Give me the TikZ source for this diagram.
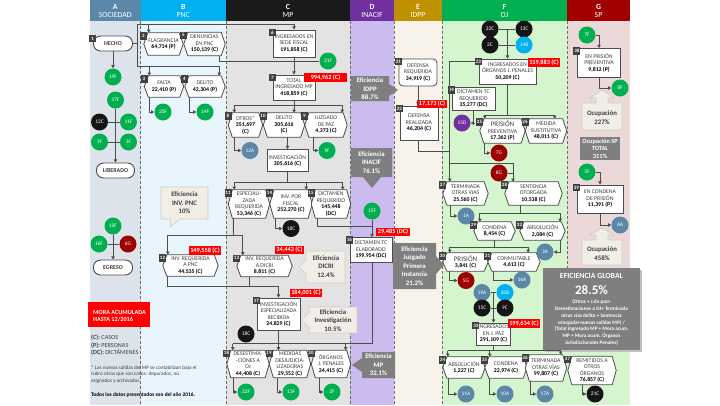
\documentclass[tikz,border=0pt]{standalone}
\usepackage{fontspec}
\setmainfont{Carlito}
\usetikzlibrary{arrows.meta,calc}
\definecolor{hA}{HTML}{5B87AA}
\definecolor{hB}{HTML}{00B0F0}
\definecolor{hC}{HTML}{1A1A1A}
\definecolor{hD}{HTML}{7030A0}
\definecolor{hE}{HTML}{BF9000}
\definecolor{hF}{HTML}{00B050}
\definecolor{hG}{HTML}{A00000}
\definecolor{bA}{HTML}{DCE3EA}
\definecolor{bB}{HTML}{E9F5FC}
\definecolor{bC}{HTML}{E3E3E3}
\definecolor{bD}{HTML}{CBBBEE}
\definecolor{bE}{HTML}{F7F3EA}
\definecolor{bF}{HTML}{D5F5CF}
\definecolor{bG}{HTML}{EBD9D9}
\definecolor{cG}{HTML}{00B050}
\definecolor{cK}{HTML}{151515}
\definecolor{cS}{HTML}{5B87A8}
\definecolor{cR}{HTML}{9C0000}
\definecolor{cB}{HTML}{00B0F0}
\definecolor{cP}{HTML}{7030A0}
\definecolor{txt}{HTML}{404040}
\definecolor{lin}{HTML}{4D4D4D}
\definecolor{effG}{HTML}{7F7F7F}
\definecolor{callF}{HTML}{F1EEE8}
\definecolor{callD}{HTML}{CFCBC4}
\definecolor{redL}{HTML}{FF0000}
\definecolor{dashC}{HTML}{6E6E6E}
\newcommand\nb[1]{{\color{black}\bfseries #1}}
\pgfdeclarelayer{bg}
\pgfdeclarelayer{shp}
\pgfsetlayers{bg,shp,main}
\tikzset{
  ntxt/.style={font=\fontsize{5.8}{6.5}\selectfont, text=txt, align=center, inner sep=0pt},
  hexn/.style={ntxt, rectangle},
  boxn/.style={ntxt, rectangle, draw=lin, fill=white, line width=0.8pt},
  stad/.style={ntxt, rectangle, draw=lin, fill=white, line width=0.9pt, rounded corners=7pt, font=\bfseries\fontsize{6}{7}\selectfont, minimum width=39pt, minimum height=15pt},
  hexd/.style={draw=lin, fill=white, line width=0.8pt, line join=round},
  ln/.style={draw=lin, line width=0.9pt},
  arr/.style={ln, -{Triangle[length=3.2pt,width=3.4pt]}},
  circ/.style={circle, minimum size=17pt, inner sep=0pt, text=white, font=\fontsize{5.4}{6}\selectfont, fill=#1},
  tagn/.style={fill=txt, text=white, font=\bfseries\fontsize{5}{5}\selectfont, inner sep=0pt, minimum width=7pt, minimum height=7.5pt, anchor=north west},
  redl/.style={fill=redL, text=white, font=\bfseries\fontsize{6.3}{7}\selectfont, inner xsep=1.5pt, inner ysep=0pt, minimum height=8.5pt},
  efft/.style={text=white, font=\bfseries\fontsize{6.8}{8.6}\selectfont, align=center, inner sep=0pt},
  calf/.style={fill=callF, draw=callD, line width=0.6pt},
  calt/.style={text=txt, font=\bfseries\fontsize{6.8}{8.6}\selectfont, align=center, inner sep=0pt},
  hdr/.style={text=white, font=\fontsize{7.8}{8}\selectfont, align=center, inner sep=0pt},
}
\begin{document}
\begin{tikzpicture}[x=1pt,y=-1pt]
\useasboundingbox (0,0) rectangle (720,405);
\begin{pgfonlayer}{bg}
\fill[white] (0,0) rectangle (720,405);
\fill[bA] (90,21) rectangle (140.5,405);
\fill[bB] (140.5,21) rectangle (226,405);
\fill[bC] (226,21) rectangle (350,405);
\fill[bD] (350,21) rectangle (394,405);
\fill[bE] (394,21) rectangle (442,405);
\fill[bF] (442,21) rectangle (567,405);
\fill[bF] (567,268) rectangle (630,405);
\fill[bG] (567,21) rectangle (630,268);
\fill[hA] (90,0) rectangle (140.5,21);
\fill[hB] (140.5,0) rectangle (226,21);
\fill[hC] (226,0) rectangle (350,21);
\fill[hD] (350,0) rectangle (394,21);
\fill[hE] (394,0) rectangle (442,21);
\fill[hF] (442,0) rectangle (567,21);
\fill[hG] (567,0) rectangle (630,21);
\foreach \x in {140.5,226,350,394,442}
  \draw[dashC, line width=0.9pt, dash pattern=on 3pt off 2pt] (\x,21) -- (\x,405);
\draw[dashC, line width=0.9pt, dash pattern=on 3pt off 2pt] (567,21) -- (567,268);
\end{pgfonlayer}

% headers
\node[hdr] (hdA) at (115.25,10.5) {\textbf{A}\\SOCIEDAD};
\node[hdr] (hdB) at (183.25,10.5) {\textbf{B}\\PNC};
\node[hdr] (hdC) at (288,10.5) {\textbf{C}\\MP};
\node[hdr] (hdD) at (372,10.5) {\textbf{D}\\INACIF};
\node[hdr] (hdE) at (418,10.5) {\textbf{E}\\IDPP};
\node[hdr] (hdF) at (504.5,10.5) {\textbf{F}\\OJ};
\node[hdr] (hdG) at (598.5,10.5) {\textbf{G}\\SP};

% ---------- callouts / efficiency boxes ----------
\filldraw[calf] (161,187)--(208,187)--(208,219)--(180,219)--(170,227)--(171,219)--(161,219)--cycle;
\node[calt] (ePNC) at (184.5,203) {Eficiencia\\INV. PNC\\10\%};
\filldraw[calf] (306,251)--(345,251)--(345,283)--(306,283)--(306,274)--(299,267)--(306,260)--cycle;
\node[calt] (eDICRI) at (326,266.5) {Eficiencia\\DICRI\\12.4\%};
\filldraw[calf] (309,307)--(357,307)--(357,333)--(309,333)--(309,327)--(301,320)--(309,313)--cycle;
\node[calt] (eInv) at (333,320.5) {Eficiencia\\Investigación\\10.5\%};
\filldraw[calf] (582,103)--(596,103)--(596,98)--(590,98)--(602,90)--(614,98)--(608,98)--(608,103)--(622,103)--(622,130)--(582,130)--cycle;
\node[calt] (oc1) at (602,117.5) {Ocupación\\227\%};
\filldraw[calf] (582,240)--(596,240)--(596,235)--(590,235)--(602,228)--(614,235)--(608,235)--(608,240)--(622,240)--(622,265)--(582,265)--cycle;
\node[calt] (oc2) at (602,253.5) {Ocupación\\458\%};

\fill[effG] (351,76)--(389,76)--(389,84)--(398,90)--(389,96)--(389,101)--(351,101)--cycle;
\node[efft] (eIDPP) at (370,89) {Eficiencia\\IDPP\\88.7\%};
\fill[effG] (351,148)--(392,148)--(392,177)--(381,177)--(372,188)--(363,177)--(351,177)--cycle;
\node[efft] (eINACIF) at (371.5,162.5) {Eficiencia\\INACIF\\76.1\%};
\fill[effG] (393,243)--(436,243)--(436,256)--(444,265)--(436,274)--(436,289)--(393,289)--cycle;
\node[efft] (eJuz) at (414.5,266) {Eficiencia\\Juzgado\\Primera\\Instancia\\21.2\%};
\fill[effG] (362,352)--(395,352)--(395,378)--(362,378)--(362,372)--(352,365)--(362,358)--cycle;
\node[efft] (eMP) at (378.5,365) {Eficiencia\\MP\\32.1\%};
\fill[effG] (580,137) rectangle (620,160);
\node[text=white, font=\bfseries\fontsize{6.3}{7.4}\selectfont, align=center, inner sep=0pt] (ocT) at (600,148.5) {Ocupación SP\\TOTAL\\311\%};
\fill[black!25] (545,270) rectangle (642,352);
\fill[effG] (543,268) rectangle (640,350);
\node[text=white, font=\bfseries\fontsize{7.8}{8}\selectfont, inner sep=0pt] (gT) at (591.5,276) {EFICIENCIA GLOBAL};
\node[text=white, font=\bfseries\fontsize{13}{14}\selectfont, inner sep=0pt] (gP) at (591.5,290) {28.5\%};
\node[text=white, font=\bfseries\fontsize{5.2}{6.95}\selectfont, align=center, inner sep=0pt] (gX) at (591.5,322.5) {(Otros + J.de paz+\\Desestimaciones a OJ+ Terminada\\otras vías delito + Sentencia\\otorgada+nuevas salidas MP) /\\(Total ingresado MP + Mora acum.\\MP + Mora acum. Órganos\\Jurisdiccionales Penales)};

% ---------- legend ----------
\fill[redL] (88,302) rectangle (150,327);
\node[text=white, font=\bfseries\fontsize{6.2}{6.6}\selectfont, align=left, inner sep=0pt, anchor=west] (mora) at (93,316) {MORA ACUMULADA\\HASTA 12/2016};
\node[text=txt, font=\fontsize{6.2}{7.6}\selectfont, align=left, inner sep=0pt, anchor=west] (leg) at (91,345.5) {\textbf{(C):} CASOS\\\textbf{(P):} PERSONAS\\\textbf{(DC):} DICTÁMENES};
\node[text=txt, font=\fontsize{5.2}{6.8}\selectfont, align=left, inner sep=0pt, anchor=west] (foot) at (91,374.5) {* Las nuevas salidas del MP se contabilizan bajo el\\rubro otros que son casos: depurados, no\\asignados y archivados};
\node[text=black, font=\bfseries\fontsize{5.4}{6}\selectfont, inner sep=0pt, anchor=west] (todos) at (91,395.5) {Todos los datos presentados son del año 2016.};

% ---------- column A ----------
\node[stad] (n1) at (113,43.5) {HECHO};
\node[stad, minimum width=38pt] (nLib) at (115.5,170.5) {LIBERADO};
\node[stad] (nEgr) at (113,267.5) {EGRESO};
\node[circ=cG] (c19F) at (113,77) {19F};
\node[circ=cG] (c17F) at (115.5,100) {17F};
\node[circ=cK] (c12C) at (99.5,122) {12C};
\node[circ=cG] (c11F) at (128.5,122) {11F};
\node[circ=cG] (c1F) at (99.5,142) {1F};
\node[circ=cG] (c3F) at (128.5,142) {3F};
\node[circ=cG] (c10F) at (113,226) {10F};
\node[circ=cG] (c16F) at (99,244) {16F};
\node[circ=cR] (c6G) at (128,244) {6G};

% ---------- column B ----------
\node[hexn, minimum width=39pt, minimum height=22pt] (n2) at (163.5,44) {FLAGRANCIA\\\nb{64,714 (P)}};
\node[hexn, minimum width=41pt, minimum height=23pt] (n5) at (204.5,44) {DENUNCIAS\\EN PNC\\\nb{150,139 (C)}};
\node[hexn, minimum width=39pt, minimum height=21pt] (n3) at (164,86.5) {FALTA\\\nb{22,410 (P)}};
\node[hexn, minimum width=40pt, minimum height=21pt] (n4) at (205,86.5) {DELITO\\\nb{42,304 (P)}};
\node[hexn, minimum width=55pt, minimum height=21pt] (n12) at (190.5,265.5) {INV. REQUERIDA\\A PNC\\\nb{44,535 (C)}};
\node[circ=cG] (c20F) at (163,112) {20F};
\node[circ=cG] (c14F) at (205,112) {14F};

% ---------- column C ----------
\node[boxn, minimum width=42pt, minimum height=27pt] (n6) at (294,43.5) {INGRESADOS EN\\SEDE FISCAL\\\nb{191,858 (C)}};
\node[boxn, minimum width=42pt, minimum height=25pt] (n7) at (294,87.5) {TOTAL\\INGRESADO MP\\\nb{418,859 (C)}};
\node[hexn, minimum width=34pt, minimum height=24pt] (n8) at (245.5,125) {OTROS*\\\nb{351,697}\\\nb{(C)}};
\node[hexn, minimum width=41pt, minimum height=24pt] (n10) at (284,125) {DELITO\\\nb{305,616}\\\nb{(C)}};
\node[hexn, minimum width=42pt, minimum height=24pt] (n9) at (326,125) {JUZGADO\\DE PAZ\\\nb{4,373 (C)}};
\node[boxn, minimum width=41pt, minimum height=22pt] (nInv) at (287.5,160.5) {INVESTIGACIÓN\\\nb{305,616 (C)}};
\node[hexn, minimum width=41pt, minimum height=28pt] (n11) at (249,204) {ESPECIALI-\\ZADA\\REQUERIDA\\\nb{53,346 (C)}};
\node[hexn, minimum width=42pt, minimum height=28pt] (n14) at (291,204) {INV. POR\\FISCAL\\\nb{252,270 (C)}};
\node[hexn, minimum width=39pt, minimum height=28pt] (n15) at (331,204) {DICTAMEN\\REQUERIDO\\\nb{145,448}\\\nb{(DC)}};
\node[hexn, minimum width=55pt, minimum height=21pt] (n13) at (264.5,266) {INV. REQUERIDA\\A DICRI\\\nb{8,811 (C)}};
\node[boxn, minimum width=43pt, minimum height=32pt] (n17) at (278.5,314) {INVESTIGACIÓN\\ESPECIALIZADA\\RECIBIDA\\\nb{24,829 (C)}};
\node[hexn, minimum width=42pt, minimum height=27pt] (n18) at (248,364) {DESESTIMA-\\-CIONES A\\OJ\\\nb{44,408 (C)}};
\node[hexn, minimum width=41pt, minimum height=27pt] (n19) at (290,364) {MEDIDAS\\DESJUDICIA-\\LIZADORAS\\\nb{29,552 (C)}};
\node[hexn, minimum width=39pt, minimum height=27pt] (n20) at (331,364) {ÓRGANOS\\J. PENALES\\\nb{24,415 (C)}};
\node[circ=cG] (c21F) at (328,61) {21F};
\node[circ=cS] (c12A) at (250,150.5) {12A};
\node[circ=cG] (c9F) at (327,150.5) {9F};
\node[circ=cK] (c18Ca) at (291,228.5) {18C};
\node[circ=cK] (c18Cb) at (246,334) {18C};
\node[circ=cG] (c22F) at (246,392) {22F};
\node[circ=cG] (c13F) at (291,392) {13F};
\node[circ=cG] (c2F) at (332,392) {2F};

% ---------- column D ----------
\node[boxn, minimum width=42pt, minimum height=25pt] (n16) at (371,250) {DICTAMEN TC\\ELABORADO\\\nb{199,954 (DC)}};
\node[circ=cG] (c15F) at (372,211) {15F};

% ---------- column E ----------
\node[boxn, rounded corners=4pt, minimum width=38pt, minimum height=27pt] (n21) at (418,72.5) {DEFENSA\\REQUERIDA\\\nb{34,919 (C)}};
\node[boxn, minimum width=38pt, minimum height=34pt] (n22) at (419,123) {DEFENSA\\REALIZADA\\\nb{46,204 (C)}};

% ---------- column F ----------
\node[boxn, minimum width=57pt, minimum height=25pt] (n23) at (507.5,71.5) {INGRESADOS EN\\ÓRGANOS J. PENALES\\\nb{50,209 (C)}};
\node[boxn, minimum width=43pt, minimum height=23pt] (n24) at (473.5,99) {DICTAMEN TC\\REQUERIDO\\\nb{35,277 (DC)}};
\node[hexn, minimum width=45pt, minimum height=24pt] (n25) at (502.5,131) {{\fontsize{7}{7}\selectfont PRISIÓN}\\PREVENTIVA\\\nb{17,362 (P)}};
\node[hexn, minimum width=41pt, minimum height=24pt] (n26) at (546,131) {MEDIDA\\SUSTITUTIVA\\\nb{48,011 (C)}};
\node[hexn, minimum width=45pt, minimum height=23pt] (n27) at (465.5,193.5) {TERMINADA\\OTRAS VIAS\\\nb{25,560 (C)}};
\node[hexn, minimum width=57pt, minimum height=23pt] (n28) at (533.5,193.5) {SENTENCIA\\OTORGADA\\\nb{10,538 (C)}};
\node[hexn, minimum width=41pt, minimum height=18pt] (n29) at (494.5,231) {CONDENA\\\nb{8,454 (C)}};
\node[hexn, minimum width=45pt, minimum height=18pt] (n32) at (542.5,231) {ABSOLUCIÓN\\\nb{2,084 (C)}};
\node[hexn, minimum width=45pt, minimum height=18pt] (n30) at (465.5,262) {{\fontsize{7}{7}\selectfont PRISIÓN}\\\nb{3,841 (C)}};
\node[hexn, minimum width=52pt, minimum height=18pt] (n31) at (514,262) {CONMUTABLE\\\nb{4,613 (C)}};
\node[boxn, minimum width=34pt, minimum height=22pt] (n33) at (493.5,334) {INGRESADOS\\EN J. PAZ\\\nb{291,109 (C)}};
\node[hexn, minimum width=42pt, minimum height=21pt] (n34) at (464,367.5) {ABSOLUCIÓN\\\nb{1,227 (C)}};
\node[hexn, minimum width=42pt, minimum height=21pt] (n35) at (506,367.5) {CONDENA\\\nb{22,974 (C)}};
\node[hexn, minimum width=41pt, minimum height=26pt] (n36) at (546,368) {TERMINADA\\OTRAS VÍAS\\\nb{99,807 (C)}};
\node[hexn, minimum width=48pt, minimum height=28pt] (n37) at (592,370.5) {REMITIDOS A\\OTROS\\ÓRGANOS\\\nb{76,857 (C)}};
\node[circ=cK] (c22C) at (490,29) {22C};
\node[circ=cK] (c13C) at (524,29) {13C};
\node[circ=cK] (c2C) at (490,45) {2C};
\node[circ=cB] (c14B) at (524,45) {14B};
\node[circ=cP] (c15D) at (462,123) {15D};
\node[circ=cR] (c7G) at (499,153) {7G};
\node[circ=cR] (c8G) at (499,173) {8G};
\node[circ=cS] (c1A) at (466,216) {1A};
\node[circ=cS] (c3A) at (545,252) {3A};
\node[circ=cR] (c5G) at (466,280.5) {5G};
\node[circ=cS] (c16A) at (522,280) {16A};
\node[circ=cS] (c19A) at (482,292.5) {19A};
\node[circ=cB] (c20B) at (505,292.5) {20B};
\node[circ=cK] (c15C) at (482,308) {15C};
\node[circ=cK] (c9C) at (505,308) {9C};
\node[circ=cS] (c11A) at (466,394) {11A};
\node[circ=cS] (c10A) at (505,394) {10A};
\node[circ=cS] (c17A) at (545,394) {17A};
\node[circ=cK] (c21C) at (595,394) {21C};

% ---------- column G ----------
\node[boxn, minimum width=43pt, minimum height=29pt] (n38) at (599,63) {EN PRISIÓN\\PREVENTIVA\\\nb{9,812 (P)}};
\node[boxn, minimum width=46pt, minimum height=28pt] (n39) at (600,199) {EN CONDENA\\DE PRISIÓN\\\nb{11,391 (P)}};
\node[circ=cG] (c7F) at (587,35) {7F};
\node[circ=cG] (c8F) at (620,88) {8F};
\node[circ=cG] (c5F) at (587,172) {5F};
\node[circ=cS] (c6A) at (620,225) {6A};

% ---------- hexagon outlines ----------
\begin{pgfonlayer}{shp}
\foreach \n in {n2,n3,n4,n5,n8,n9,n10,n11,n12,n13,n14,n15,n18,n19,n20,n25,n26,n27,n28,n29,n30,n31,n32,n34,n35,n36,n37}{
  \draw[hexd] (\n.west) -- ([xshift=4pt]\n.north west) -- ([xshift=-4pt]\n.north east) -- (\n.east) -- ([xshift=-4pt]\n.south east) -- ([xshift=4pt]\n.south west) -- cycle;
}
\end{pgfonlayer}

% ---------- tags ----------
\foreach \n/\t in {n1/1,n2/2,n3/3,n4/4,n5/5,n6/6,n7/7,n8/8,n9/9,n10/10,n11/11,n12/12,n13/13,n14/14,n15/15,n16/16,n17/17,n18/18,n19/19,n20/20,n21/21,n22/22,n23/23,n24/24,n25/25,n26/26,n27/27,n28/28,n29/29,n30/30,n31/31,n32/32,n33/33,n34/34,n35/35,n36/36,n37/37,n38/38,n39/39}{
  \node[tagn] (t\t) at ([xshift=-4pt,yshift=1pt]\n.north west) {\t};
}

% ---------- red labels ----------
\node[redl, minimum width=43pt] (r994) at (325.5,77.5) {994,962 (C)};
\node[redl] (r149) at (205,250.5) {149,558 (C)};
\node[redl] (r344) at (289.5,250) {34,443 (C)};
\node[redl] (r184) at (306,293) {184,001 (C)};
\node[redl] (r294) at (393,232) {29,485 (DC)};
\node[redl] (r171) at (432,104) {17,173 (C)};
\node[redl] (r119) at (544,62.5) {119,883 (C)};
\node[redl] (r199) at (524,323.5) {199,634 (C)};

% ---------- connectors: A ----------
\draw[arr] (n1) -- (c19F);
\draw[ln] (c12C) -- (c11F);
\draw[ln] (c1F) -- (c3F);
\draw[arr] (c17F) -- (nLib);
\draw[ln] (c16F) -- (c6G);
\draw[arr] (c10F) -- (nEgr);
\coordinate (jR) at (137,43.5);
\coordinate (jTop) at (137,24);
\coordinate (jMid) at (137,66);
\coordinate (n2in) at ([xshift=5pt]n2.north west);
\coordinate (n3in) at ([xshift=5pt]n3.north west);
\coordinate (n4in) at ([xshift=-6pt]n4.north east);
\draw[ln] (n1.east) -- (jR) -- (jTop) -- (jTop -| n6.north);
\draw[arr] (jTop -| n6.north) -- (n6.north);
\draw[arr] (jTop -| n2in) -- (n2in);
\draw[ln] (jR) -- (jMid) -- (jMid -| n4in);
\draw[arr] (jMid -| n3in) -- (n3in);
\draw[arr] (jMid -| n4in) -- (n4in);
% B
\draw[arr] ([xshift=5pt]n3.south west) |- (c20F);
\draw[arr] ([xshift=5pt]n4.south west) |- (c14F);
\draw[ln] ([xshift=-6pt]n5.south east) |- (c21F);
% C
\draw[arr] (n6) -- (n7);
\coordinate (d7) at (294,105);
\coordinate (n8in) at ([xshift=6pt]n8.north west);
\coordinate (n9in) at ([xshift=-5pt]n9.north east);
\draw[ln] (d7 -| n8in) -- (d7 -| n9in);
\draw[arr] (n7.south) -- (n7.south |- n10.north);
\draw[arr] (d7 -| n8in) -- (n8in);
\draw[arr] (d7 -| n9in) -- (n9in);
\draw[arr] ([xshift=6pt]n8.south west) |- (c12A);
\draw[arr] ([xshift=9pt]n9.south west) |- (c9F);
\draw[arr] (n10.south -| nInv.north) -- (nInv.north);
\coordinate (dI) at (287.5,182);
\coordinate (n11in) at ([xshift=6pt]n11.north west);
\coordinate (n14in) at ([xshift=-6pt]n14.north east);
\coordinate (n15in) at ([xshift=-8pt]n15.north east);
\draw[ln] (nInv.south) -- (dI);
\draw[ln] (dI -| n11in) -- (dI -| n15in);
\draw[arr] (dI -| n11in) -- (n11in);
\draw[arr] (dI -| n14in) -- (n14in);
\draw[arr] (dI -| n15in) -- (n15in);
\draw[arr] ([xshift=6pt]n14.south west) |- (c18Ca);
\coordinate (j15) at (372,226);
\draw[ln] ([xshift=6pt]n15.south west) |- (j15);
\draw[arr] (c15F) -- (c15F |- n16.north);
\coordinate (j11) at (233.5,235);
\coordinate (n12in) at ([xshift=5pt]n12.north west);
\coordinate (n13in) at ([xshift=6pt]n13.north west);
\draw[ln] ([xshift=5pt]n11.south west) -- (j11);
\draw[arr] (j11) -| (n12in);
\draw[arr] (j11) -| (n13in);
\coordinate (j17) at (278.5,286);
\draw[ln] ([xshift=5pt]n12.south west) |- (j17);
\draw[ln] ([xshift=13pt]n13.south west) -- ([xshift=13pt]n13.south west |- j17);
\draw[arr] (j17) -- (n17.north);
\coordinate (d17) at (278.5,343.5);
\coordinate (n18in) at ([xshift=6pt]n18.north west);
\coordinate (n20in) at ([xshift=-5pt]n20.north east);
\draw[ln] (n17.south) -- (d17);
\draw[ln] (d17 -| n18in) -- (d17 -| n20in);
\draw[arr] (d17 -| n18in) -- (n18in);
\draw[arr] (d17) -- (d17 |- n19.north);
\draw[arr] (d17 -| n20in) -- (n20in);
\draw[arr] ([xshift=7pt]n18.south west) |- (c22F);
\draw[arr] ([xshift=8pt]n19.south west) |- (c13F);
\draw[arr] ([xshift=8pt]n20.south west) |- (c2F);
% D
\draw[ln] (n16.south -| c15F) |- (d17 -| n20in);
% E
\draw[arr] (n21.south) -- (n21.south |- n22.north);
\coordinate (j22) at (450,151);
\draw[ln] (n21.south |- n22.south) |- (j22);
% F
\draw[ln] (c22C) -- (c13C);
\draw[ln] (c2C) -- (c14B);
\coordinate (jOJ) at (507.5,29);
\draw[arr] (jOJ) -- (n23.north);
\coordinate (n27in) at ([xshift=7pt]n27.north west);
\draw[arr] ([yshift=-3pt]n23.north west) -| (n27in);
\draw[arr] (n24.south) |- (c15D);
\coordinate (d23) at (507.5,115);
\coordinate (n25in) at ([xshift=5pt]n25.north west);
\coordinate (n26in) at ([xshift=-12pt]n26.north east);
\draw[ln] (n23.south) -- (d23);
\draw[ln] (d23 -| n25in) -- (d23 -| n26in);
\draw[arr] (d23 -| n25in) -- (n25in);
\draw[arr] (d23 -| n26in) -- (n26in);
\draw[arr] ([xshift=5pt]n25.south west) |- (c7G);
\coordinate (j28) at (513,163);
\coordinate (n28in) at (j28 |- n28.north);
\draw[ln] (n27in |- j28) -- (j28);
\draw[arr] (j28) -- (n28in);
\draw[ln] (c8G) -- (c8G -| j28);
\draw[arr] ([xshift=8pt]n27.south west) |- (c1A);
\coordinate (d28) at (520,213);
\coordinate (n29in) at ([xshift=6pt]n29.north west);
\coordinate (n32in) at ([xshift=-5pt]n32.north east);
\draw[ln] (d28 |- n28.south) -- (d28);
\draw[ln] (d28 -| n29in) -- (d28 -| n32in);
\draw[arr] (d28 -| n29in) -- (n29in);
\draw[arr] (d28 -| n32in) -- (n32in);
\draw[arr] ([xshift=-5pt]n32.south east) |- (c3A);
\coordinate (d29) at (494.5,247);
\coordinate (n30in) at ([xshift=7pt]n30.north west);
\coordinate (n31in) at ([xshift=-12pt]n31.north east);
\draw[ln] (n29.south) -- (d29);
\draw[ln] (d29 -| n30in) -- (d29 -| n31in);
\draw[arr] (d29 -| n30in) -- (n30in);
\draw[arr] (d29 -| n31in) -- (n31in);
\draw[arr] ([xshift=7pt]n30.south west) |- (c5G);
\draw[arr] ([xshift=6pt]n31.south west) |- (c16A);
\draw[ln] (c19A) -- (c20B);
\draw[ln] (c15C) -- (c9C);
\coordinate (jJP) at (493.5,292.5);
\draw[arr] (jJP) -- (n33.north);
\coordinate (d33) at (493.5,350.5);
\coordinate (n34in) at ([xshift=5pt]n34.north west);
\coordinate (n35in) at ([xshift=5pt]n35.north west);
\coordinate (n36in) at ([xshift=-6pt]n36.north east);
\draw[ln] (n33.south) -- (d33);
\draw[ln] (d33 -| n34in) -- (d33 -| n36in);
\draw[arr] (d33 -| n34in) -- (n34in);
\draw[arr] (d33 -| n35in) -- (n35in);
\draw[arr] (d33 -| n36in) -- (n36in);
\draw[arr] ([xshift=6pt]n34.south west) |- (c11A);
\draw[arr] ([xshift=5pt]n35.south west) |- (c10A);
\draw[arr] ([xshift=5pt]n36.south west) |- (c17A);
\draw[arr] ([xshift=15pt]n37.south west) |- (c21C);
% G
\draw[arr] (c7F) -| (n38.north);
\draw[arr] (n38.south) |- (c8F);
\draw[arr] (c5F) -| (n39.north);
\draw[arr] (n39.south) |- (c6A);
\end{tikzpicture}
\end{document}
